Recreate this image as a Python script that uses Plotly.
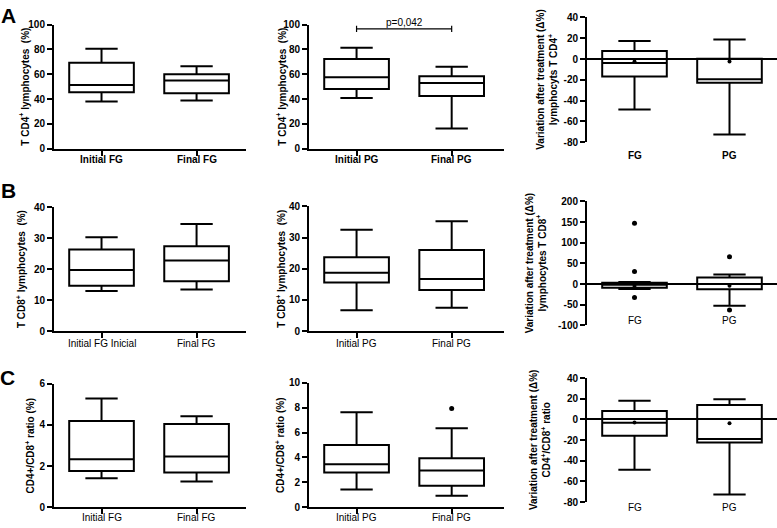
import plotly.graph_objects as go

W, H = 777, 528
FONT = "Liberation Sans"

# ---- data: each box is [lower whisker, Q1, median, Q3, upper whisker]
# Row A - T CD4+ lymphocytes
a1_cats = ["Initial FG", "Final FG"]
a1_boxes = [[38.0, 45.4, 51.4, 69.3, 80.5], [38.8, 44.6, 54.9, 60.0, 66.4]]
a2_cats = ["Initial PG", "Final PG"]
a2_boxes = [[40.9, 48.0, 57.5, 72.2, 81.3], [16.3, 42.5, 53.0, 58.3, 66.0]]
a3_cats = ["FG", "PG"]
a3_boxes = [[-48.6, -16.9, -3.8, 7.8, 17.2], [-72.7, -22.9, -19.4, 0.3, 18.8]]
a3_means = [-2.5, -2.5]
p_text = "p=0,042"
p_y = 96.6

# Row B - T CD8+ lymphocytes
b1_cats = ["Initial FG Inicial", "Final FG"]
b1_boxes = [[12.9, 14.6, 19.7, 26.3, 30.3], [13.4, 16.1, 22.8, 27.4, 34.5]]
b2_cats = ["Initial PG", "Final PG"]
b2_boxes = [[6.7, 15.6, 18.7, 23.7, 32.5], [7.5, 13.2, 16.7, 26.0, 35.2]]
b3_cats = ["FG", "PG"]
b3_boxes = [[-12.0, -9.0, -2.0, 3.0, 5.0], [-52.5, -13.0, 0.0, 16.0, 23.3]]
b3_means = [-5.0, -4.0]
b3_out_x = ["FG", "FG", "FG", "PG", "PG"]
b3_out_y = [147, 30, -33, 66, -63]

# Row C - CD4+/CD8+ ratio
c1_cats = ["Initial FG", "Final FG"]
c1_boxes = [[1.40, 1.76, 2.33, 4.19, 5.29], [1.24, 1.68, 2.46, 4.05, 4.43]]
c2_cats = ["Initial PG", "Final PG"]
c2_boxes = [[1.42, 2.78, 3.44, 4.99, 7.64], [0.92, 1.71, 2.94, 3.94, 6.35]]
c2_out_x = ["Final PG"]
c2_out_y = [7.93]
c3_cats = ["FG", "PG"]
c3_boxes = [[-48.6, -15.8, -3.2, 8.2, 18.0], [-72.5, -22.4, -18.9, 13.9, 19.6]]
c3_means = [-3.0, -3.8]


def fx(p):
    return p / W


def fy(p):
    return 1 - p / H


# columns: left px, right px, x range max
cols = [(54, 246, 1.52), (309, 504, 1.55), (587, 777, 1.5)]

panels = [
    dict(cats=a1_cats, boxes=a1_boxes, col=0, top=19, bot=146, yr=(0, 100), dt=20,
         title="T CD4<sup>+</sup> lymphocytes  (%)", tx=24, bold=True, label_y=157),
    dict(cats=a2_cats, boxes=a2_boxes, col=1, top=19, bot=146, yr=(0, 100), dt=20,
         title="T CD4<sup>+</sup> lymphocytes  (%)", tx=281, bold=True, label_y=157),
    dict(cats=a3_cats, boxes=a3_boxes, col=2, top=11.7, bot=139.3, yr=(-80, 40), dt=20,
         title="Variation after treatment (Δ%)<br>lymphocyts T CD4<sup>+</sup>", tx=547,
         bold=True, means=a3_means, label_y=153),
    dict(cats=b1_cats, boxes=b1_boxes, col=0, top=205.7, bot=332.7, yr=(0, 40), dt=10,
         title="T CD8<sup>+</sup> lymphocytes  (%)", tx=21, bold=False, label_y=345),
    dict(cats=b2_cats, boxes=b2_boxes, col=1, top=205, bot=332.7, yr=(0, 40), dt=10,
         title="T CD8<sup>+</sup> lymphocytes  (%)", tx=281, bold=False, label_y=345),
    dict(cats=b3_cats, boxes=b3_boxes, col=2, top=200, bot=326.7, yr=(-100, 200), dt=50,
         title="Variation after treatment (Δ%)<br>lymphocytes T CD8<sup>+</sup>", tx=536,
         bold=False, means=b3_means, out=(b3_out_x, b3_out_y), label_y=322),
    dict(cats=c1_cats, boxes=c1_boxes, col=0, top=386.7, bot=512.7, yr=(0, 6), dt=2,
         title="CD4+/CD8<sup>+</sup> ratio (%)", tx=30, bold=False, label_y=523),
    dict(cats=c2_cats, boxes=c2_boxes, col=1, top=385.7, bot=512.7, yr=(0, 10), dt=2,
         title="CD4+/CD8<sup>+</sup> ratio (%)", tx=280, bold=False, out=(c2_out_x, c2_out_y),
         label_y=523),
    dict(cats=c3_cats, boxes=c3_boxes, col=2, top=380.7, bot=507.7, yr=(-80, 40), dt=20,
         title="Variation after treatment (Δ%)<br>CD4<sup>+</sup>/CD8<sup>+</sup> ratio", tx=540,
         bold=False, means=c3_means, label_y=513),
]


def b(s):
    return "<b>" + s.replace("<br>", "</b><br><b>") + "</b>"


fig = go.Figure()
annotations = []
shapes = []

for i, p in enumerate(panels, start=1):
    xa, ya = f"x{i}", f"y{i}"
    left, right, xmax = cols[p["col"]]
    stats = list(zip(*p["boxes"]))
    fig.add_trace(go.Box(
        x=p["cats"], lowerfence=stats[0], q1=stats[1], median=stats[2],
        q3=stats[3], upperfence=stats[4], xaxis=xa, yaxis=ya,
        fillcolor="rgba(0,0,0,0)", line=dict(color="black", width=2),
        width=0.68, whiskerwidth=0.5, boxpoints=False,
        showlegend=False, hoverinfo="skip"))
    if "means" in p:
        fig.add_trace(go.Scatter(
            x=p["cats"], y=p["means"], mode="markers", xaxis=xa, yaxis=ya,
            marker=dict(color="black", size=4), showlegend=False, hoverinfo="skip"))
    if "out" in p:
        fig.add_trace(go.Scatter(
            x=p["out"][0], y=p["out"][1], mode="markers", xaxis=xa, yaxis=ya,
            marker=dict(color="black", size=5), showlegend=False, hoverinfo="skip"))

    lo, hi = p["yr"]
    tv = list(range(lo, hi + 1, p["dt"]))
    third = p["col"] == 2

    fig.layout[f"xaxis{i}"] = dict(
        domain=[fx(left), fx(right)], range=[-0.5, xmax], anchor=ya,
        type="category", categoryarray=p["cats"],
        showline=not third, linecolor="black", linewidth=2,
        ticks="" if third else "outside", ticklen=5, tickwidth=2, tickcolor="black",
        showticklabels=False, showgrid=False, zeroline=False)
    fig.layout[f"yaxis{i}"] = dict(
        domain=[fy(p["bot"]), fy(p["top"])], range=[lo, hi], anchor=xa,
        tickvals=tv, ticktext=[b(str(v)) for v in tv],
        showline=True, linecolor="black", linewidth=2,
        ticks="outside", ticklen=5, tickwidth=2, tickcolor="black",
        showgrid=False, zeroline=third, zerolinecolor="black", zerolinewidth=2,
        tickfont=dict(family=FONT, size=10, color="black"))

    # y axis title
    annotations.append(dict(
        text=b(p["title"]), textangle=-90, xref="paper", yref="paper",
        x=fx(p["tx"]), y=fy((p["top"] + p["bot"]) / 2), xanchor="center", yanchor="middle",
        showarrow=False, font=dict(family=FONT, size=10, color="black")))

    # group labels under each box
    for c in p["cats"]:
        annotations.append(dict(
            text=b(c) if p["bold"] else c, xref=xa, yref="paper", x=c, y=fy(p["label_y"]),
            xanchor="center", yanchor="middle", showarrow=False,
            font=dict(family=FONT, size=10, color="black")))

# significance bracket on panel A, PG
shapes.append(dict(type="line", xref="x2", yref="y2", x0=0, x1=1, y0=p_y, y1=p_y,
                   line=dict(color="black", width=1.2)))
for xi in (0, 1):
    shapes.append(dict(type="line", xref="x2", yref="y2", x0=xi, x1=xi,
                       y0=p_y - 2.5, y1=p_y + 2.5, line=dict(color="black", width=1.2)))
annotations.append(dict(text=p_text, xref="x2", yref="y2", x=0.5, y=p_y, yanchor="bottom",
                        showarrow=False, yshift=-1,
                        font=dict(family=FONT, size=10, color="black")))

# panel letters
for letter, lx, ly in [("A", 8, 10), ("B", 8, 189), ("C", 7, 380)]:
    annotations.append(dict(text=b(letter), xref="paper", yref="paper", x=fx(lx), y=fy(ly),
                            xanchor="center", yanchor="middle", showarrow=False,
                            font=dict(family=FONT, size=21, color="black")))

fig.update_layout(
    width=W, height=H, margin=dict(l=0, r=0, t=0, b=0),
    paper_bgcolor="white", plot_bgcolor="white",
    annotations=annotations, shapes=shapes,
    font=dict(family=FONT, color="black"))

# drop the page's default body margin so the figure sits at the window's corner
fig.write_html("out.html", config={"displayModeBar": False},
               post_script="document.body.style.margin='0';")
